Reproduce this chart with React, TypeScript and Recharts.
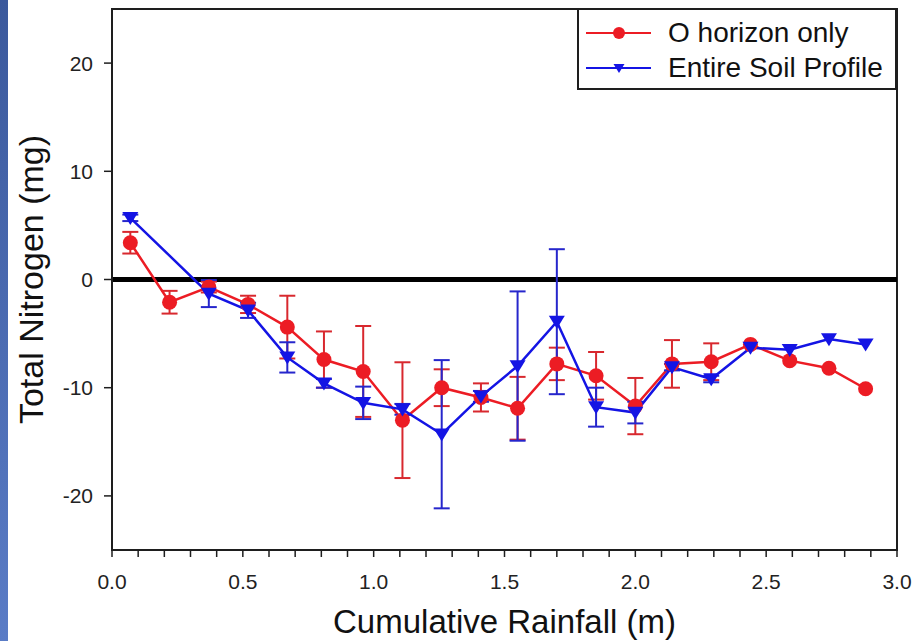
import React from "react";
import { LineChart, Line, XAxis, YAxis, ErrorBar, ReferenceLine, ReferenceArea, Legend, Label } from "recharts";

// O horizon only (red circles)
const rainfallO = [0.07, 0.22, 0.37, 0.52, 0.67, 0.81, 0.96, 1.11, 1.26, 1.41, 1.55, 1.7, 1.85, 2.0, 2.14, 2.29, 2.44, 2.59, 2.74, 2.88];
const nitrogenO = [3.4, -2.1, -0.7, -2.3, -4.4, -7.4, -8.5, -13.0, -10.0, -10.9, -11.9, -7.8, -8.9, -11.7, -7.8, -7.6, -6.0, -7.5, -8.2, -10.1];
const errorO = [1.0, 1.05, 0.5, 0.8, 2.9, 2.6, 4.2, 5.35, 1.7, 1.3, 2.9, 1.5, 2.2, 2.6, 2.2, 1.7, null, null, null, null];

// Entire soil profile (blue triangles)
const rainfallSoil = [0.07, 0.37, 0.52, 0.67, 0.81, 0.96, 1.11, 1.26, 1.41, 1.55, 1.7, 1.85, 2.0, 2.14, 2.29, 2.44, 2.59, 2.74, 2.88];
const nitrogenSoil = [5.7, -1.3, -2.85, -7.2, -9.6, -11.4, -12.0, -14.3, -10.8, -8.0, -3.9, -11.8, -12.3, -8.1, -9.2, -6.3, -6.5, -5.5, -6.0];
const errorSoil = [0.3, 1.25, 0.7, 1.4, 0.4, 1.5, 0.5, 6.85, 0.5, 6.9, 6.7, 1.8, 1.0, 0.3, 0.3, null, null, null, null];

const seriesNames = ["O horizon only", "Entire Soil Profile"];
const xTicks = [0, 0.1, 0.2, 0.3, 0.4, 0.5, 0.6, 0.7, 0.8, 0.9, 1.0, 1.1, 1.2, 1.3, 1.4, 1.5, 1.6, 1.7, 1.8, 1.9, 2.0, 2.1, 2.2, 2.3, 2.4, 2.5, 2.6, 2.7, 2.8, 2.9, 3.0];
const yTicks = [-20, -10, 0, 10, 20];

const RED = "#ec1c24";
const RED_ERR = "#d8282e";
const BLUE = "#1414e4";
const BLUE_ERR = "#2626cc";
const INK = "#1e1e1e";
const FONT = '"Liberation Sans", Arial, sans-serif';

const oData = rainfallO.map((x, i) => ({ x, y: nitrogenO[i], err: errorO[i] }));
const soilData = rainfallSoil.map((x, i) => ({ x, y: nitrogenSoil[i], err: errorSoil[i] }));

const trianglePath = (cx: number, cy: number, w: number, h: number) =>
  `M${cx - w},${cy - h * 0.45}L${cx + w},${cy - h * 0.45}L${cx},${cy + h * 0.55}Z`;

const redDot = (props: any) => {
  const { cx, cy, index } = props;
  if (cx == null || cy == null) return <g key={`r-${index}`} />;
  return <circle key={`r-${index}`} cx={cx} cy={cy} r={7.5} fill={RED} />;
};

const blueDot = (props: any) => {
  const { cx, cy, index } = props;
  if (cx == null || cy == null) return <g key={`b-${index}`} />;
  return <path key={`b-${index}`} d={trianglePath(cx, cy, 8, 13)} fill={BLUE} />;
};

const xTickFormat = (v: number) => {
  const twice = v * 2;
  return Math.abs(twice - Math.round(twice)) < 1e-6 ? v.toFixed(1) : "";
};

const renderLegend = (props: any) => {
  const items = [...(props.payload || [])].sort(
    (a: any, b: any) => seriesNames.indexOf(a.value) - seriesNames.indexOf(b.value),
  );
  return (
    <div style={{ width: 320, height: 82, border: `2px solid ${INK}`, boxSizing: "border-box", background: "#fff" }}>
      <svg width={316} height={78} style={{ display: "block" }}>
        {items.map((item: any, i: number) => {
          const cy = 23 + i * 35;
          const isSoil = item.value === seriesNames[1];
          return (
            <g key={item.value}>
              <line x1={7} y1={cy} x2={72} y2={cy} stroke={item.color} strokeWidth={2} />
              {isSoil ? (
                <path d={trianglePath(40, cy, 5.5, 9)} fill={item.color} />
              ) : (
                <circle cx={40} cy={cy} r={6} fill={item.color} />
              )}
              <text x={89} y={cy + 9} fontSize={28} fill="#111" fontFamily={FONT}>
                {item.value}
              </text>
            </g>
          );
        })}
      </svg>
    </div>
  );
};

export default function App() {
  return (
    <div style={{ position: "absolute", left: 0, top: 0, width: 916, height: 641, background: "#fff", fontFamily: FONT }}>
      <div
        style={{
          position: "absolute",
          left: 0,
          top: 0,
          width: 8,
          height: 641,
          background: "linear-gradient(#3b599c, #5a7cc6)",
        }}
      />
      <LineChart width={916} height={641} margin={{ top: 9, right: 19, left: 0, bottom: 0 }}>
        <XAxis
          dataKey="x"
          type="number"
          domain={[0, 3]}
          ticks={xTicks}
          interval={0}
          tickFormatter={xTickFormat}
          height={91}
          tickSize={7}
          tickMargin={17}
          tick={{ fontSize: 21, fill: "#222" }}
          tickLine={{ stroke: INK, strokeWidth: 1.5 }}
          axisLine={{ stroke: INK, strokeWidth: 2 }}
        >
          <Label
            content={(p: any) => (
              <text
                x={p.viewBox.x + p.viewBox.width / 2}
                y={p.viewBox.y + 83}
                textAnchor="middle"
                fontSize={33}
                fill="#111"
                fontFamily={FONT}
              >
                Cumulative Rainfall (m)
              </text>
            )}
          />
        </XAxis>
        <YAxis
          type="number"
          domain={[-25, 25]}
          ticks={yTicks}
          interval={0}
          width={112}
          tickSize={8}
          tickMargin={11}
          tick={{ fontSize: 21, fill: "#222" }}
          tickLine={{ stroke: INK, strokeWidth: 1.5 }}
          axisLine={{ stroke: INK, strokeWidth: 2 }}
        >
          <Label
            content={(p: any) => {
              const x = p.viewBox.x + 43;
              const y = p.viewBox.y + p.viewBox.height / 2;
              return (
                <text
                  x={x}
                  y={y}
                  transform={`rotate(-90, ${x}, ${y})`}
                  textAnchor="middle"
                  fontSize={34}
                  fill="#111"
                  fontFamily={FONT}
                >
                  Total Nitrogen (mg)
                </text>
              );
            }}
          />
        </YAxis>
        <ReferenceArea
          x1={0}
          x2={3}
          y1={-25}
          y2={25}
          fill="none"
          fillOpacity={0}
          stroke={INK}
          strokeWidth={2}
          ifOverflow="visible"
        />
        <ReferenceLine y={0} stroke="#000" strokeWidth={5} />
        <Legend
          layout="vertical"
          align="center"
          verticalAlign="middle"
          content={renderLegend}
          wrapperStyle={{ position: "absolute", left: 577, top: 8, right: "auto", bottom: "auto", width: 320, height: 82 }}
        />
        <Line
          data={oData}
          dataKey="y"
          name={seriesNames[0]}
          stroke={RED}
          strokeWidth={2.5}
          dot={redDot}
          activeDot={false}
          isAnimationActive={false}
        >
          <ErrorBar dataKey="err" direction="y" width={8} stroke={RED_ERR} strokeWidth={2} isAnimationActive={false} />
        </Line>
        <Line
          data={soilData}
          dataKey="y"
          name={seriesNames[1]}
          stroke={BLUE}
          strokeWidth={2.5}
          dot={blueDot}
          activeDot={false}
          isAnimationActive={false}
        >
          <ErrorBar dataKey="err" direction="y" width={8} stroke={BLUE_ERR} strokeWidth={2} isAnimationActive={false} />
        </Line>
      </LineChart>
    </div>
  );
}
